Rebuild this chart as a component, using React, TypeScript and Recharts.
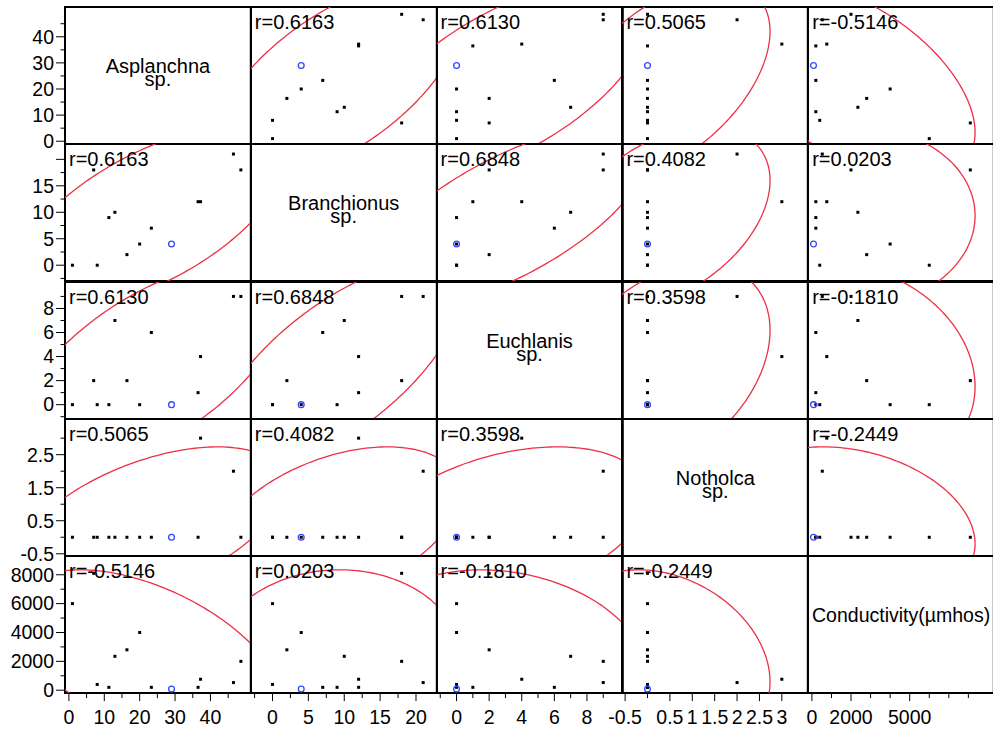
import React from 'react'
import { ScatterChart, Scatter, XAxis, YAxis, ReferenceArea } from 'recharts'

// one entry per sampling station
const asplanchna = [1, 7, 8, 11.3, 13, 16.4, 20, 23.3, 29, 36.5, 37.2, 46.5, 48.6]
const branchionus = [0, 18, 0, 9, 10, 2, 4, 7, 4, 12, 12, 21, 18]
const euchlanis = [0, 2, 0, 0, 7, 2, 0, 6, 0, 1, 4, 9, 9]
const notholca = [0, 0, 0, 0, 0, 0, 0, 0, 0, 0, 3, 2, 0]
const conductivity = [6000, 8100, 400, 200, 2350, 2800, 4000, 200, 80, 200, 760, 530, 2000]
const selectedRow = 8

const columns = [asplanchna, branchionus, euchlanis, notholca, conductivity]
const columnNames = [
  ['Asplanchna', 'sp.'],
  ['Branchionus', 'sp.'],
  ['Euchlanis', 'sp.'],
  ['Notholca', 'sp.'],
  ['Conductivity(µmhos)'],
]

// r for pairs (0,1) (0,2) (0,3) (0,4) (1,2) (1,3) (1,4) (2,3) (2,4) (3,4)
const correlations = ['0.6163', '0.6130', '0.5065', '-0.5146', '0.6848', '0.4082', '0.0203', '0.3598', '-0.1810', '-0.2449']

const domains = [[-1.1, 51.4], [-3, 22.9], [-1.2, 10.2], [-0.57, 3.58], [-200, 9300]]
const majorTicks = [
  [0, 10, 20, 30, 40],
  [0, 5, 10, 15, 20],
  [0, 2, 4, 6, 8],
  [-0.5, 0.5, 1.5, 2.5],
  [0, 2000, 4000, 6000, 8000],
]
const minorTicks = [
  [5, 15, 25, 35, 45],
  [-2.5, 2.5, 7.5, 12.5, 17.5],
  [-1, 1, 3, 5, 7, 9],
  [0, 1, 2, 3],
  [1000, 3000, 5000, 7000],
]
const yTickLabels = [
  [0, 10, 20, 30, 40],
  [0, 5, 10, 15],
  [0, 2, 4, 6, 8],
  [-0.5, 0.5, 1.5, 2.5],
  [0, 2000, 4000, 6000, 8000],
]
const xTickLabels = [
  [0, 10, 20, 30, 40],
  [0, 5, 10, 15, 20],
  [0, 2, 4, 6, 8],
  [-0.5, 0.5, 1, 1.5, 2, 2.5, 3],
  [0, 2000, 5000],
]

const RED = '#ee2f45'
const BLUE = '#3348ff'
const FONT = '"Liberation Sans", Arial, sans-serif'

const GRID_LEFT = 65
const GRID_TOP = 7.3
const CELL_W = 185.8
const CELL_H = 137.1
const Y_AXIS_W = 63
const X_AXIS_H = 38
const PAD = 2
const N = columns.length

const CHI2_95 = -2 * Math.log(0.05)

// 95% bivariate normal density ellipse
function densityEllipse(xs: number[], ys: number[]) {
  const n = xs.length
  const mx = xs.reduce((a, b) => a + b, 0) / n
  const my = ys.reduce((a, b) => a + b, 0) / n
  let sxx = 0
  let syy = 0
  let sxy = 0
  for (let k = 0; k < n; k++) {
    sxx += (xs[k] - mx) ** 2
    syy += (ys[k] - my) ** 2
    sxy += (xs[k] - mx) * (ys[k] - my)
  }
  const sx = Math.sqrt(sxx / (n - 1))
  const sy = Math.sqrt(syy / (n - 1))
  const r = sxy / Math.sqrt(sxx * syy)
  const c = Math.sqrt(CHI2_95)
  const pts = []
  for (let s = 0; s <= 240; s++) {
    const t = (s / 240) * 2 * Math.PI
    pts.push({
      x: mx + c * sx * Math.cos(t),
      y: my + c * sy * (r * Math.cos(t) + Math.sqrt(1 - r * r) * Math.sin(t)),
    })
  }
  return pts
}

function pairIndex(a: number, b: number) {
  const lo = Math.min(a, b)
  const hi = Math.max(a, b)
  return lo * 4 - (lo * (lo - 1)) / 2 + (hi - lo - 1)
}

function allTicks(v: number) {
  return [...majorTicks[v], ...minorTicks[v]].sort((a, b) => a - b)
}

function LeftTick(props: any) {
  const { x, y, payload, variable } = props
  const v = payload.value
  const major = majorTicks[variable].includes(v)
  const labelled = yTickLabels[variable].includes(v)
  return (
    <g>
      <line x1={x - (major ? 9 : 4.5)} x2={x} y1={y} y2={y} stroke="#000" />
      {labelled && (
        <text x={x - 11} y={y} dy="0.35em" textAnchor="end" fontSize={19.5} fontFamily={FONT} fill="#000">
          {v}
        </text>
      )}
    </g>
  )
}

function BottomTick(props: any) {
  const { x, y, payload, variable } = props
  const v = payload.value
  const labelled = xTickLabels[variable].includes(v)
  return (
    <g>
      <line x1={x} x2={x} y1={y} y2={y + (labelled ? 8 : 5)} stroke="#000" />
      {labelled && (
        <text x={x} y={y + 31} textAnchor="middle" fontSize={19.5} fontFamily={FONT} fill="#000">
          {v}
        </text>
      )}
    </g>
  )
}

const Square = (p: any) => <rect x={p.cx - 1.5} y={p.cy - 1.5} width={3} height={3} fill="#000" />
const Ring = (p: any) => <circle cx={p.cx} cy={p.cy} r={2.9} fill="none" stroke={BLUE} strokeWidth={1.3} />
const NoShape = () => <g />

function Panel({ row, col }: { row: number; col: number }) {
  const showY = col === 0
  const showX = row === N - 1
  const left = GRID_LEFT + col * CELL_W - PAD - (showY ? Y_AXIS_W : 0)
  const top = GRID_TOP + row * CELL_H - PAD
  const width = CELL_W + 2 * PAD + (showY ? Y_AXIS_W : 0)
  const height = CELL_H + 2 * PAD + (showX ? X_AXIS_H : 0)
  const xs = columns[col]
  const ys = columns[row]
  const [x0, x1] = domains[col]
  const [y0, y1] = domains[row]
  const diag = row === col
  const points = diag ? [] : xs.map((x, k) => ({ x, y: ys[k], k })).filter((p) => p.k !== selectedRow)
  const selected = diag ? [] : [{ x: xs[selectedRow], y: ys[selectedRow] }]
  const ring = diag ? [] : densityEllipse(xs, ys)

  return (
    <div style={{ position: 'absolute', left, top }}>
      <ScatterChart width={width} height={height} margin={{ top: PAD, right: PAD, bottom: PAD, left: PAD }}>
        <XAxis
          type="number"
          dataKey="x"
          domain={[x0, x1]}
          allowDataOverflow
          hide={!showX}
          height={X_AXIS_H}
          ticks={allTicks(col)}
          interval={0}
          tickSize={0}
          tickMargin={0}
          tickLine={false}
          axisLine={false}
          tick={(p: any) => <BottomTick {...p} variable={col} />}
        />
        <YAxis
          type="number"
          dataKey="y"
          domain={[y0, y1]}
          allowDataOverflow
          hide={!showY}
          width={Y_AXIS_W}
          ticks={allTicks(row)}
          interval={0}
          tickSize={0}
          tickMargin={0}
          tickLine={false}
          axisLine={false}
          tick={(p: any) => <LeftTick {...p} variable={row} />}
        />
        <ReferenceArea
          x1={x0}
          x2={x1}
          y1={y0}
          y2={y1}
          ifOverflow="visible"
          fill="none"
          fillOpacity={0}
          stroke="#000"
          strokeWidth={2}
        />
        <Scatter
          data={ring}
          line={{ stroke: RED, strokeWidth: 1.3 }}
          lineType="joint"
          shape={NoShape}
          isAnimationActive={false}
        />
        <Scatter data={points} shape={Square} isAnimationActive={false} />
        <Scatter data={selected} shape={Ring} isAnimationActive={false} />
      </ScatterChart>
    </div>
  )
}

export default function App() {
  const cells: { row: number; col: number }[] = []
  for (let row = 0; row < N; row++) for (let col = 0; col < N; col++) cells.push({ row, col })

  return (
    <div
      style={{
        position: 'absolute',
        left: 0,
        top: 0,
        width: 993,
        height: 730,
        background: '#fff',
        overflow: 'hidden',
        fontFamily: FONT,
      }}
    >
      <style>{'.recharts-surface{overflow:visible}'}</style>
      {cells.map((c) => (
        <Panel key={`${c.row}-${c.col}`} row={c.row} col={c.col} />
      ))}
      <svg
        width={993}
        height={730}
        style={{ position: 'absolute', left: 0, top: 0, pointerEvents: 'none' }}
        fontFamily={FONT}
      >
        {cells.map(({ row, col }) => {
          const px = GRID_LEFT + col * CELL_W
          const py = GRID_TOP + row * CELL_H
          if (row === col) {
            const lines = columnNames[col]
            const cx = px + CELL_W / 2
            const cy = py + CELL_H / 2
            if (lines.length === 1) {
              return (
                <text key={`n${col}`} x={cx} y={cy - 2.5} textAnchor="middle" fontSize={19.5} fill="#000">
                  {lines[0]}
                </text>
              )
            }
            return (
              <g key={`n${col}`}>
                <text x={cx} y={cy - 2.5} textAnchor="middle" fontSize={20} fill="#000">
                  {lines[0]}
                </text>
                <text x={cx} y={cy + 10.5} textAnchor="middle" fontSize={20} fill="#000">
                  {lines[1]}
                </text>
              </g>
            )
          }
          return (
            <text key={`r${row}-${col}`} x={px + 4} y={py + 22} fontSize={20} fill="#000">
              {`r=${correlations[pairIndex(row, col)]}`}
            </text>
          )
        })}
      </svg>
    </div>
  )
}
